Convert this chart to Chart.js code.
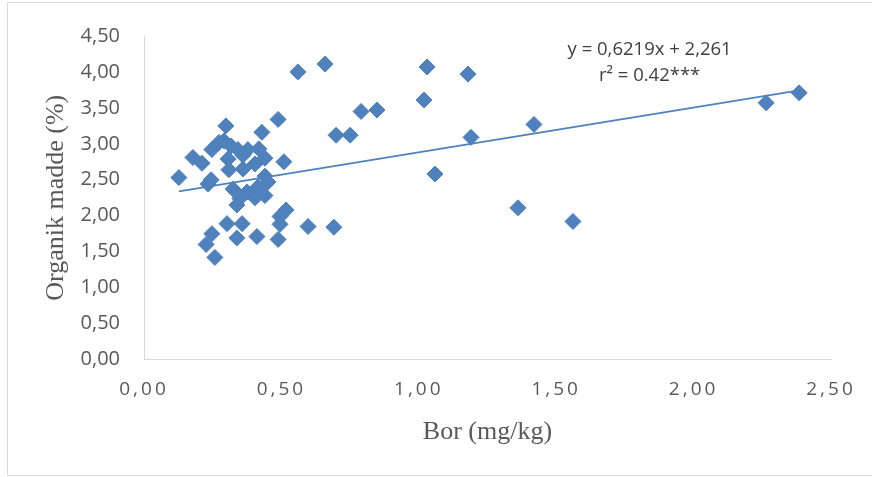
<!DOCTYPE html>
<html>
<head>
<meta charset="utf-8">
<script src="https://cdn.jsdelivr.net/npm/chart.js@4.4.1/dist/chart.umd.min.js"></script>
<style>
  html, body { margin: 0; padding: 0; background: #ffffff; }
  #wrap { width: 872px; height: 477px; position: relative; }
</style>
</head>
<body>
<div id="wrap"><canvas id="c" width="872" height="477"></canvas></div>
<script>
// ---- data ----
const borValues = [
  0.127, 0.178, 0.211, 0.233, 0.244, 0.247, 0.273, 0.291, 0.298, 0.309,
  0.317, 0.342, 0.378, 0.418, 0.429, 0.360, 0.404, 0.440, 0.440, 0.488,
  0.509, 0.324, 0.349, 0.338, 0.415, 0.451, 0.404, 0.440, 0.375, 0.517,
  0.495, 0.495, 0.488, 0.411, 0.357, 0.338, 0.302, 0.247, 0.226, 0.258,
  0.597, 0.691, 0.560, 0.659, 0.699, 0.750, 0.790, 0.848, 1.019, 1.030,
  1.179, 1.059, 1.190, 1.361, 1.419, 1.561, 2.264, 2.384, 0.306, 0.360
];
const organikValues = [
  2.53, 2.81, 2.73, 2.44, 2.50, 2.92, 3.02, 3.04, 3.25, 2.64,
  2.97, 2.92, 2.92, 2.93, 3.16, 2.65, 2.72, 2.80, 2.55, 3.34,
  2.75, 2.37, 2.24, 2.15, 2.40, 2.47, 2.25, 2.28, 2.33, 2.08,
  1.99, 1.88, 1.67, 1.71, 1.89, 1.69, 1.89, 1.75, 1.60, 1.42,
  1.85, 1.84, 4.00, 4.11, 3.12, 3.12, 3.45, 3.47, 3.61, 4.07,
  3.97, 2.58, 3.09, 2.11, 3.27, 1.92, 3.57, 3.71, 2.79, 2.84
];
const trendSlope = 0.6219;
const trendIntercept = 2.261;
const equationLines = ['y = 0,6219x + 2,261', 'r\u00B2 = 0.42***'];
const equationAnchor = [1.84, 4.31, 3.95]; // x value, y value line 1, y value line 2
const xTickValues = [0, 0.5, 1.0, 1.5, 2.0, 2.5];
const yTickValues = [0, 0.5, 1.0, 1.5, 2.0, 2.5, 3.0, 3.5, 4.0, 4.5];
const xAxisTitle = 'Bor (mg/kg)';
const yAxisTitle = 'Organik madde (%)';

// ---- build datasets ----
const points = borValues.map((v, i) => ({ x: v, y: organikValues[i] }));
const xMin = Math.min(...borValues), xMax = Math.max(...borValues);
const trendPoints = [
  { x: xMin, y: trendSlope * xMin + trendIntercept },
  { x: xMax, y: trendSlope * xMax + trendIntercept }
];

const BLUE = '#4F81BD';
const GREY_TEXT = '#595959';
const AXIS_GREY = '#D9D9D9';
const fmt = v => v.toFixed(2).replace('.', ',');

// x scale with letter-spaced tick labels
class SpacedLinearScale extends Chart.LinearScale {
  drawLabels(area) {
    const ctx = this.ctx;
    ctx.save();
    if ('letterSpacing' in ctx) ctx.letterSpacing = '3px';
    super.drawLabels(area);
    ctx.restore();
  }
}
SpacedLinearScale.id = 'spacedLinear';
SpacedLinearScale.defaults = Chart.LinearScale.defaults;
Chart.register(SpacedLinearScale);

const framePlugin = {
  id: 'frame',
  beforeDraw(chart) {
    const ctx = chart.ctx;
    ctx.save();
    ctx.fillStyle = '#ffffff';
    ctx.fillRect(0, 0, chart.width, chart.height);
    ctx.strokeStyle = AXIS_GREY;
    ctx.lineWidth = 1;
    ctx.beginPath();
    ctx.moveTo(872, 2.5); ctx.lineTo(7.5, 2.5); ctx.lineTo(7.5, 475.5); ctx.lineTo(872, 475.5);
    ctx.stroke();
    ctx.restore();
  }
};

const equationPlugin = {
  id: 'equation',
  afterDraw(chart) {
    const { ctx, scales } = chart;
    const px = scales.x.getPixelForValue(equationAnchor[0]);
    ctx.save();
    ctx.font = '18.5px "Open Sans"';
    ctx.fillStyle = '#404040';
    ctx.textAlign = 'center';
    ctx.textBaseline = 'middle';
    ctx.fillText(equationLines[0], px, scales.y.getPixelForValue(equationAnchor[1]));
    ctx.fillText(equationLines[1], px, scales.y.getPixelForValue(equationAnchor[2]));
    ctx.restore();
  }
};

new Chart(document.getElementById('c'), {
  type: 'scatter',
  data: {
    datasets: [
      {
        label: 'Trend',
        type: 'line',
        data: trendPoints,
        borderColor: BLUE,
        borderWidth: 1.75,
        pointRadius: 0,
        fill: false,
        order: 0
      },
      {
        label: 'Organik madde',
        data: points,
        pointStyle: 'rectRot',
        pointRadius: 8,
        pointBackgroundColor: BLUE,
        pointBorderColor: BLUE,
        pointBorderWidth: 1,
        order: 1
      }
    ]
  },
  options: {
    responsive: false,
    animation: false,
    devicePixelRatio: 1,
    layout: { padding: { left: 0, top: 33, right: 41, bottom: 0 } },
    plugins: { legend: { display: false }, tooltip: { enabled: false } },
    scales: {
      x: {
        type: 'spacedLinear',
        min: 0, max: 2.5,
        afterBuildTicks: s => { s.ticks = xTickValues.map(v => ({ value: v })); },
        afterFit: s => { s.height = 117.5; },
        grid: { display: false, drawTicks: false },
        border: { display: true, color: AXIS_GREY, width: 1 },
        ticks: {
          callback: v => fmt(v),
          color: GREY_TEXT,
          font: { family: '"Open Sans"', size: 19 },
          padding: 19,
          maxRotation: 0
        },
        title: {
          display: true,
          text: xAxisTitle,
          color: GREY_TEXT,
          font: { family: '"Liberation Serif"', size: 26 },
          padding: { top: 0, bottom: 29 }
        }
      },
      y: {
        type: 'linear',
        min: 0, max: 4.5,
        afterBuildTicks: s => { s.ticks = yTickValues.map(v => ({ value: v })); },
        afterFit: s => { s.width = 144; },
        grid: { display: false, drawTicks: false },
        border: { display: true, color: AXIS_GREY, width: 1 },
        ticks: {
          callback: v => fmt(v),
          color: GREY_TEXT,
          font: { family: '"Open Sans"', size: 20 },
          padding: 24
        },
        title: {
          display: true,
          text: yAxisTitle,
          color: GREY_TEXT,
          font: { family: '"Liberation Serif"', size: 26 },
          padding: { top: 41, bottom: 0 }
        }
      }
    }
  },
  plugins: [framePlugin, equationPlugin]
});
</script>
</body>
</html>
